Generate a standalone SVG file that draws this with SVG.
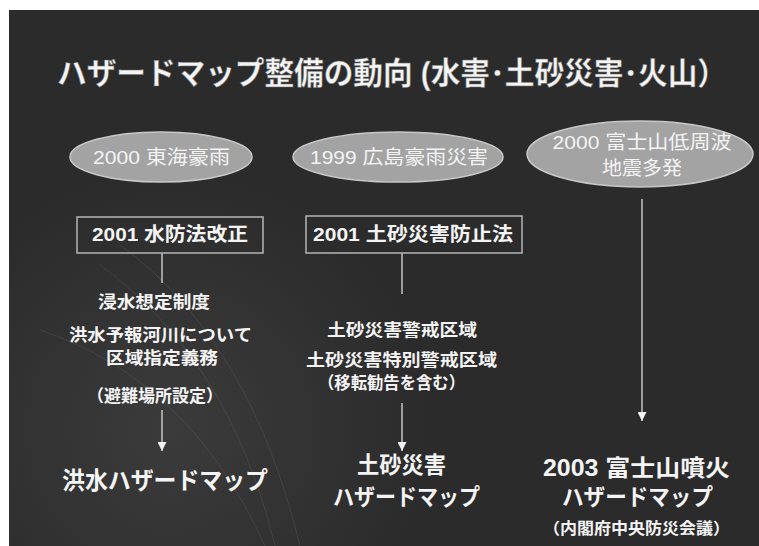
<svg xmlns="http://www.w3.org/2000/svg" width="759" height="546" viewBox="0 0 759 546">
<defs>
<radialGradient id="glow" cx="170" cy="430" r="260" gradientUnits="userSpaceOnUse">
<stop offset="0" stop-color="#3b3b3b"/>
<stop offset="1" stop-color="#2b2b2b"/>
</radialGradient>
<marker id="arr" viewBox="0 0 10 10" refX="10" refY="5" markerWidth="9" markerHeight="9" markerUnits="userSpaceOnUse" orient="auto">
<path d="M0,0 L10,5 L0,10 Z" fill="#f2f2f2"/>
</marker>
<style>
text{font-family:"Liberation Sans","Noto Sans CJK JP",sans-serif;fill:#f4f4f4;text-anchor:middle}
.b{font-weight:bold}
.ell{fill:#a3a3a3;stroke:#c8c8c8;stroke-width:1.5}
.box{fill:none;stroke:#b5b5b5;stroke-width:1.5}
.ln{stroke:#c4c4c4;stroke-width:1.5;fill:none}
.arc{stroke:#8a8a8a;stroke-width:1;fill:none;opacity:0.18}
</style>
</defs>
<rect width="759" height="546" fill="#ffffff"/>
<rect x="9" y="10" width="750" height="536" fill="url(#glow)"/>
<g id="decor">
<path class="arc" d="M40,330 Q190,380 265,546"/>
<path class="arc" d="M100,265 Q230,360 275,546"/>
<path class="arc" d="M120,245 Q250,340 300,546"/>
</g>
<g id="title">
<text class="b" x="392" y="84" font-size="31" textLength="670" lengthAdjust="spacingAndGlyphs" stroke="#666" stroke-width="0.5">ハザードマップ整備の動向 (水害･土砂災害･火山）</text>
</g>
<g id="connectors">
<line class="ln" x1="162" y1="253" x2="162" y2="283"/>
<line class="ln" x1="162" y1="410" x2="162" y2="451" marker-end="url(#arr)"/>
<line class="ln" x1="402" y1="253" x2="402" y2="294"/>
<line class="ln" x1="402" y1="403" x2="402" y2="451" marker-end="url(#arr)"/>
<line class="ln" x1="642" y1="199" x2="642" y2="421" marker-end="url(#arr)"/>
</g>
<g id="ev-tokai">
<ellipse class="ell" cx="161" cy="157" rx="91" ry="25"/>
<text x="161.5" y="164" font-size="19" textLength="137" lengthAdjust="spacingAndGlyphs">2000 東海豪雨</text>
</g>
<g id="ev-hiroshima">
<ellipse class="ell" cx="398" cy="157" rx="105" ry="25"/>
<text x="399" y="164" font-size="19" textLength="178" lengthAdjust="spacingAndGlyphs">1999 広島豪雨災害</text>
</g>
<g id="ev-fuji">
<ellipse class="ell" cx="640" cy="154" rx="113" ry="33"/>
<text x="642" y="149" font-size="19" textLength="179" lengthAdjust="spacingAndGlyphs">2000 富士山低周波</text>
<text x="642" y="175" font-size="19" textLength="80" lengthAdjust="spacingAndGlyphs">地震多発</text>
</g>
<g id="law-suibo">
<rect class="box" x="77" y="217" width="186" height="36"/>
<text class="b" x="170" y="241" font-size="19" textLength="156" lengthAdjust="spacingAndGlyphs">2001 水防法改正</text>
</g>
<g id="law-dosha">
<rect class="box" x="306" y="216" width="216" height="37"/>
<text class="b" x="413" y="241" font-size="19" textLength="200" lengthAdjust="spacingAndGlyphs">2001 土砂災害防止法</text>
</g>
<g id="detail-suibo">
<text class="b" x="154" y="308" font-size="17" textLength="112" lengthAdjust="spacingAndGlyphs">浸水想定制度</text>
<text class="b" x="160.5" y="341" font-size="17" textLength="183" lengthAdjust="spacingAndGlyphs">洪水予報河川について</text>
<text class="b" x="162" y="364" font-size="17" textLength="112" lengthAdjust="spacingAndGlyphs">区域指定義務</text>
<text class="b" x="155" y="402" font-size="17" textLength="136" lengthAdjust="spacingAndGlyphs">（避難場所設定）</text>
</g>
<g id="detail-dosha">
<text class="b" x="402" y="336" font-size="17" textLength="150" lengthAdjust="spacingAndGlyphs">土砂災害警戒区域</text>
<text class="b" x="401.5" y="366" font-size="17" textLength="191" lengthAdjust="spacingAndGlyphs">土砂災害特別警戒区域</text>
<text class="b" x="391.5" y="389" font-size="17" textLength="147" lengthAdjust="spacingAndGlyphs">（移転勧告を含む）</text>
</g>
<g id="map-flood">
<text class="b" x="165" y="489" font-size="24" textLength="206" lengthAdjust="spacingAndGlyphs">洪水ハザードマップ</text>
</g>
<g id="map-sediment">
<text class="b" x="401.5" y="473" font-size="23" textLength="89" lengthAdjust="spacingAndGlyphs">土砂災害</text>
<text class="b" x="406.5" y="505" font-size="23" textLength="147" lengthAdjust="spacingAndGlyphs">ハザードマップ</text>
</g>
<g id="map-fuji">
<text class="b" x="636.5" y="476" font-size="23" textLength="187" lengthAdjust="spacingAndGlyphs">2003 富士山噴火</text>
<text class="b" x="637.5" y="505" font-size="23" textLength="151" lengthAdjust="spacingAndGlyphs">ハザードマップ</text>
<text class="b" x="636.5" y="534" font-size="16" textLength="187" lengthAdjust="spacingAndGlyphs">（内閣府中央防災会議）</text>
</g>
</svg>
